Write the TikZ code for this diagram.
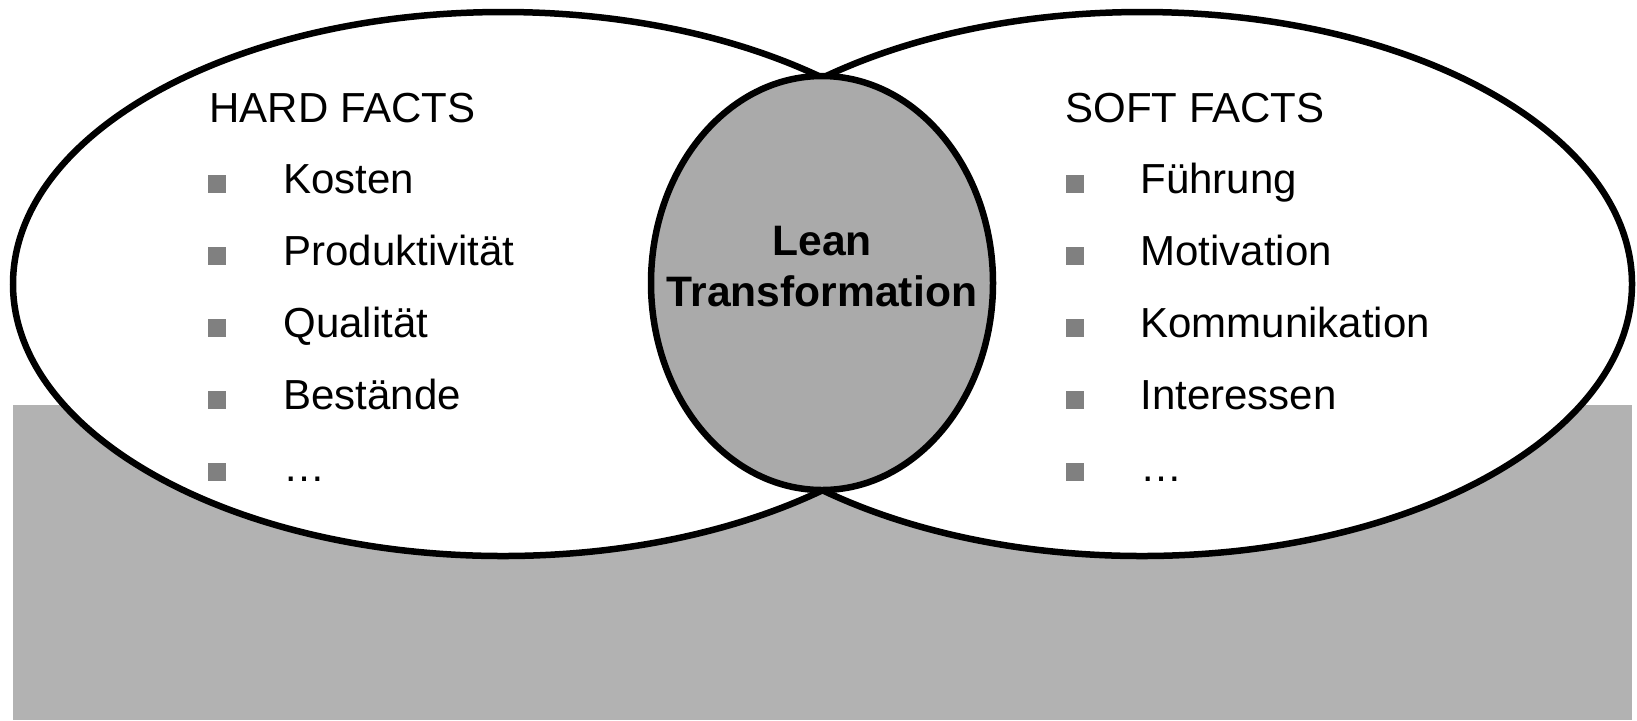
\documentclass[tikz,border=0pt]{standalone}
\usepackage{fontspec}
\setmainfont{Liberation Sans}
\usepackage{tikz}
\usepackage{xcolor}

\begin{document}
\begin{tikzpicture}[x=0.5pt,y=0.5pt,yscale=-1,xscale=1,
	facts/.style={anchor=base west,inner sep=0pt,font=\fontsize{21}{25}\selectfont},
	sq/.style={rectangle,inner sep=0pt,minimum size=9pt,fill={rgb, 255:red, 128; green, 128; blue, 128 }},
	leantext/.style={anchor=base,inner sep=0pt,font=\fontsize{21.3}{25}\selectfont\bfseries}]
	      		\useasboundingbox (0,0) rectangle (1637,720);
	      		
	      		%Shape: Rectangle
	      		\fill [color={rgb, 255:red, 178; green, 178; blue, 178 }] (13,405) rectangle (1632,720);
	      		%Shape: Ellipse
	      		\draw [fill=white, line width=3.25pt] (503,284) ellipse [x radius=490, y radius=272];
	      		%Shape: Ellipse
	      		\draw [fill=white, line width=3.25pt] (1142,284) ellipse [x radius=490, y radius=272];
	      		%Shape: Ellipse
	      		\draw [fill={rgb, 255:red, 170; green, 170; blue, 170 }, line width=3.25pt] (822,283) ellipse [x radius=171, y radius=207];
	      		
	      		% Text Node
	      		\node [facts] (hardtitle) at (209,122) {HARD FACTS};
	      		\node [sq] (hardsq1) at (217,184) {};
	      		\node [facts] (hard1) at (283,193) {Kosten};
	      		\node [sq] (hardsq2) at (217,256) {};
	      		\node [facts] (hard2) at (283,265) {Produktivität};
	      		\node [sq] (hardsq3) at (217,328) {};
	      		\node [facts] (hard3) at (283,337) {Qualität};
	      		\node [sq] (hardsq4) at (217,400) {};
	      		\node [facts] (hard4) at (283,409) {Bestände};
	      		\node [sq] (hardsq5) at (217,472) {};
	      		\node [facts] (hard5) at (283,481) {…};
	      		
	      		% Text Node
	      		\node [facts] (softtitle) at (1065,122) {SOFT FACTS};
	      		\node [sq] (softsq1) at (1075,184) {};
	      		\node [facts] (soft1) at (1140,193) {Führung};
	      		\node [sq] (softsq2) at (1075,256) {};
	      		\node [facts] (soft2) at (1140,265) {Motivation};
	      		\node [sq] (softsq3) at (1075,328) {};
	      		\node [facts] (soft3) at (1140,337) {Kommunikation};
	      		\node [sq] (softsq4) at (1075,400) {};
	      		\node [facts] (soft4) at (1140,409) {Interessen};
	      		\node [sq] (softsq5) at (1075,472) {};
	      		\node [facts] (soft5) at (1140,481) {…};
	      		
	      		% Text Node
	      		\node [leantext] (lean) at (822,255) {Lean};
	      		\node [leantext] (transformation) at (822,306) {Transformation};
	      		
	      	\end{tikzpicture}
\end{document}
